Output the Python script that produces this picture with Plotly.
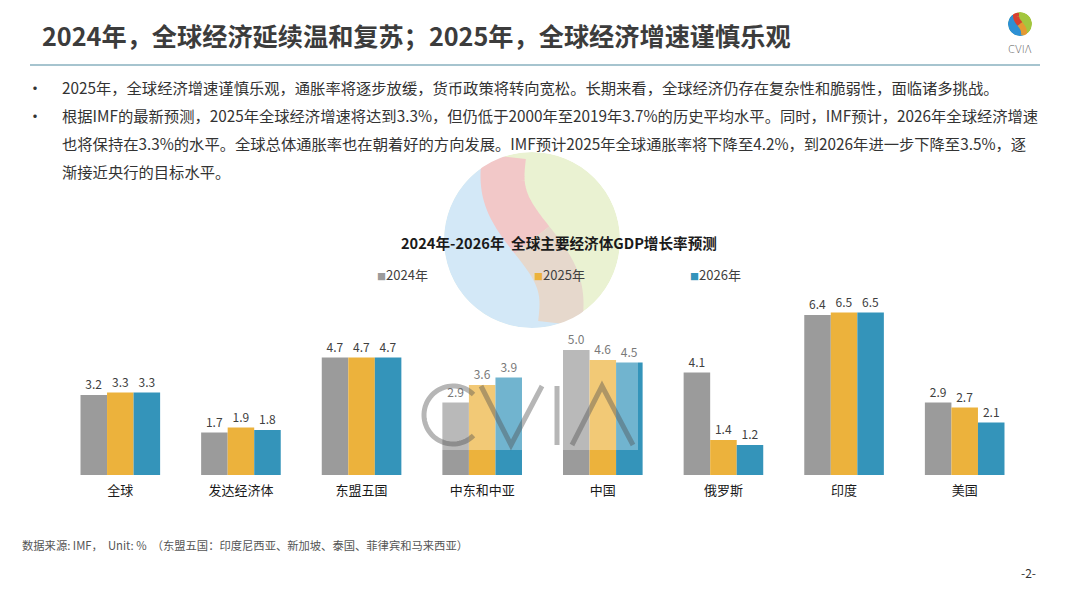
import numpy as np
import plotly.graph_objects as go

W, H = 1067, 600
FONT = "Noto Sans CJK SC"

# --- DATA ---
categories = ["全球", "发达经济体", "东盟五国", "中东和中亚", "中国", "俄罗斯", "印度", "美国"]
years = ["2024年", "2025年", "2026年"]
g2024 = [3.2, 1.7, 4.7, 2.9, 5.0, 4.1, 6.4, 2.9]
g2025 = [3.3, 1.9, 4.7, 3.6, 4.6, 1.4, 6.5, 2.7]
g2026 = [3.3, 1.8, 4.7, 3.9, 4.5, 1.2, 6.5, 2.1]
colors = ["#9B9B9B", "#ECB23C", "#3494BA"]

page_title = "2024年，全球经济延续温和复苏；2025年，全球经济增速谨慎乐观"
bullet_lines = [
    "2025年，全球经济增速谨慎乐观，通胀率将逐步放缓，货币政策将转向宽松。长期来看，全球经济仍存在复杂性和脆弱性，面临诸多挑战。",
    "根据IMF的最新预测，2025年全球经济增速将达到3.3%，但仍低于2000年至2019年3.7%的历史平均水平。同时，IMF预计，2026年全球经济增速",
    "也将保持在3.3%的水平。全球总体通胀率也在朝着好的方向发展。IMF预计2025年全球通胀率将下降至4.2%，到2026年进一步下降至3.5%，逐",
    "渐接近央行的目标水平。",
]
chart_title = "2024年-2026年  全球主要经济体GDP增长率预测"
source_note = "数据来源: IMF，  Unit: %  （东盟五国：印度尼西亚、新加坡、泰国、菲律宾和马来西亚）"


def px(x):
    return x / W


def py(y):
    return 1 - y / H


def to_path(xs, ys, close=False):
    s = "M " + " L ".join(f"{px(a):.5f},{py(b):.5f}" for a, b in zip(xs, ys))
    return s + (" Z" if close else "")


# --- logo sphere (yin-yang like) ---
def sphere(cx, cy, r, base, blue, pink, beige):
    k = r / 88.0
    dx = 28 * k
    dy = np.sqrt(r ** 2 - dx ** 2)
    t = np.linspace(-1, 1, 81)
    sx = cx + dx * t + 12 * k * np.sin(np.pi * t)
    sy = cy + dy * t
    a0 = np.degrees(np.arctan2(-dy, -dx)) % 360
    a1 = np.degrees(np.arctan2(dy, dx))
    a = np.radians(np.linspace(a0, a1, 80))
    ox, oy = cx + r * np.cos(a), cy + r * np.sin(a)
    shp = [dict(type="circle", x0=px(cx - r), x1=px(cx + r), y0=py(cy + r), y1=py(cy - r),
                fillcolor=base, line_width=0)]
    # blue side: outer arc via the left, back up along the S curve
    shp.append(dict(type="path", path=to_path(np.r_[ox, sx[::-1]], np.r_[oy, sy[::-1]], True),
                    fillcolor=blue, line_width=0))
    half = len(t) // 2
    shp.append(dict(type="path", path=to_path(sx[:half + 1], sy[:half + 1]),
                    line=dict(color=pink, width=r * 0.5)))
    shp.append(dict(type="path", path=to_path(sx[half:], sy[half:]),
                    line=dict(color=beige, width=r * 0.5)))
    # white ring trims the band to the circle
    rr = r * 1.3
    shp.append(dict(type="circle", x0=px(cx - rr), x1=px(cx + rr), y0=py(cy + rr), y1=py(cy - rr),
                    fillcolor="rgba(0,0,0,0)", line=dict(color="white", width=r * 0.6)))
    for s in shp:
        s.update(xref="paper", yref="paper", layer="below")
    return shp


fig = go.Figure()

for name, vals, c in zip(years, [g2024, g2025, g2026], colors):
    fig.add_trace(go.Bar(
        x=categories, y=vals, name=name,
        marker=dict(color=c, line_width=0),
        texttemplate="%{y:.1f}", textposition="outside",
        textfont=dict(family=FONT, size=12, color="#404040"),
        cliponaxis=False,
    ))

shapes = []
# big faded sphere behind chart title
shapes += sphere(532, 240, 88, "#eaf2d2", "#d3e8f7", "#f2c8c8", "#e6d8cc")
# small logo top right
shapes += sphere(1020, 24, 12, "#a3c63e", "#2d90d4", "#d8402f", "#e59a32")
# header rule
shapes.append(dict(type="line", xref="paper", yref="paper",
                   x0=px(30), x1=px(1040), y0=py(65), y1=py(65),
                   line=dict(color="#4f8aa0", width=1.2)))
# CVIA watermark image: translucent panel + thin strokes
shapes.append(dict(type="rect", xref="paper", yref="paper",
                   x0=px(428), x1=px(638), y0=py(450), y1=py(335),
                   fillcolor="rgba(255,255,255,0.3)", line_width=0, layer="above"))
wm = dict(color="rgba(80,80,80,0.42)", width=5)
a = np.radians(np.linspace(45, 315, 60))
shapes.append(dict(type="path", xref="paper", yref="paper",
                   path=to_path(453 + 29 * np.cos(a), 415 - 29 * np.sin(a)), line=wm, layer="above"))
shapes.append(dict(type="path", xref="paper", yref="paper",
                   path=to_path([481, 511, 542], [386, 445, 386]), line=wm, layer="above"))
shapes.append(dict(type="path", xref="paper", yref="paper",
                   path=to_path([557, 557], [386, 445]), line=wm, layer="above"))
shapes.append(dict(type="path", xref="paper", yref="paper",
                   path=to_path([572, 602, 633], [445, 386, 445]), line=wm, layer="above"))

ann = []
ann.append(dict(text=f"<b>{page_title}</b>", x=px(40), y=py(35), xanchor="left", yanchor="middle",
                font=dict(family=FONT, size=25.2, color="#3c3c3c")))
ann.append(dict(text="CVIΛ", x=px(1020), y=py(49), xanchor="center", yanchor="middle",
                font=dict(family="DejaVu Sans", size=10, color="#555555", weight=200)))
line_y = [87, 115, 143, 171]
for i, (t, yy) in enumerate(zip(bullet_lines, line_y)):
    ann.append(dict(text=t, x=px(60), y=py(yy), xanchor="left", yanchor="middle",
                    font=dict(family=FONT, size=15.3, color="#333333")))
    if i < 2:
        ann.append(dict(text="•", x=px(35), y=py(yy), xanchor="center", yanchor="middle",
                        font=dict(family=FONT, size=16, color="#333333")))
ann.append(dict(text=f"<b>{chart_title}</b>", x=px(559), y=py(242), xanchor="center", yanchor="middle",
                font=dict(family=FONT, size=14.6, color="#1a1a1a")))
for name, c, xx in zip(years, colors, [375, 532, 688]):
    ann.append(dict(text=f"<span style='color:{c};font-size:9px'>■</span>{name}",
                    x=px(xx), y=py(275), xanchor="left", yanchor="middle",
                    font=dict(family=FONT, size=13, color="#404040")))
ann.append(dict(text=source_note, x=px(20), y=py(545), xanchor="left", yanchor="middle",
                font=dict(family=FONT, size=11.3, color="#555555")))
ann.append(dict(text="-2-", x=px(1028), y=py(572), xanchor="center", yanchor="middle",
                font=dict(family=FONT, size=12, color="#333333")))
for an in ann:
    an.update(xref="paper", yref="paper", showarrow=False)

fig.update_layout(
    width=W, height=H,
    margin=dict(l=0, r=0, t=0, b=0),
    paper_bgcolor="white", plot_bgcolor="rgba(0,0,0,0)",
    barmode="group", bargap=0.34, bargroupgap=0,
    showlegend=False,
    xaxis=dict(domain=[px(60), px(1025)], showline=False, showgrid=False, ticks="",
               tickfont=dict(family=FONT, size=13, color="#1a1a1a"), ticklabelstandoff=6),
    yaxis=dict(domain=[py(475), py(290)], range=[0, 7.4], visible=False),
    shapes=shapes,
    annotations=ann,
    font=dict(family=FONT),
)

fig.write_html("out.html", config={"displayModeBar": False},
               post_script="document.body.style.margin='0';")
